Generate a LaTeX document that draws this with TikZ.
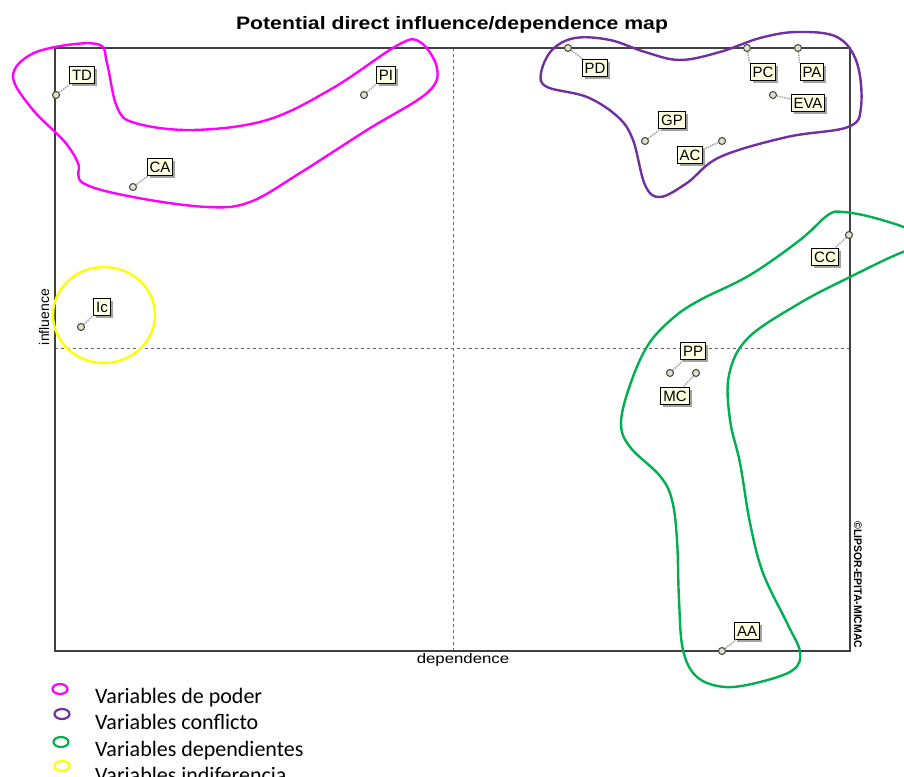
\documentclass[tikz,border=0pt]{standalone}
\usepackage{fontspec}
\setmainfont{Liberation Sans}
\newfontfamily\legendfont{Carlito}
\usetikzlibrary{shadows,shapes.geometric}

\definecolor{powercol}{RGB}{255,0,255}
\definecolor{conflictcol}{RGB}{112,48,160}
\definecolor{dependcol}{RGB}{0,176,80}
\definecolor{indiffcol}{RGB}{255,255,0}
\definecolor{labelfill}{RGB}{255,255,225}
\definecolor{pointfill}{RGB}{225,225,200}

\tikzset{
    frame/.style={draw=black!75, line width=1.3},
    midline/.style={draw=black!60, dashed, line width=0.6},
    varlabel/.style={draw=black, line width=1, fill=labelfill, inner xsep=2.5, inner ysep=1,
        minimum height=17, font=\fontsize{15}{15}\selectfont,
        drop shadow={shadow xshift=2.5pt, shadow yshift=-2.5pt, fill=black!45, opacity=0.8}},
    varpoint/.style={circle, draw=black!70, fill=pointfill, line width=1.1, minimum size=7, inner sep=0},
    leader/.style={draw=black!35, densely dotted, line width=1.5},
    group/.style={line width=2.4, smooth cycle, tension=0.6},
    legendmark/.style={ellipse, draw, line width=2.2, minimum width=15, minimum height=10, inner sep=0},
    legendtext/.style={anchor=base west, inner sep=0, font=\legendfont\fontsize{22}{22}\selectfont}
}

\begin{document}
\begin{tikzpicture}[x=1pt, y=-1pt]
\useasboundingbox (0,0) rectangle (904,776);

    % Title and axis names
    \node[font=\bfseries\fontsize{18}{18}\selectfont, xscale=1.18] (title) at (452,25) {Potential direct influence/dependence map};
    \node[font=\fontsize{14}{14}\selectfont, xscale=1.2] (xname) at (463,660) {dependence};
    \node[font=\fontsize{14}{14}\selectfont, rotate=90] (yname) at (44,317) {influence};
    \node[font=\bfseries\fontsize{11}{11}\selectfont, rotate=-90, xscale=0.95] (copy) at (858,585) {\textcopyright LIPSOR-EPITA-MICMAC};

    % Plane and the two dashed mid lines
    \coordinate (NW) at (55,48);
    \coordinate (SE) at (850,651);
    \draw[midline] (453,48) -- (453,651);
    \draw[midline] (55,348) -- (850,348);
    \draw[frame] (NW) rectangle (SE);

    % Variables: points
    \node[varpoint] (pTD) at (56,95) {};
    \node[varpoint] (pPI) at (364,95) {};
    \node[varpoint] (pCA) at (133,187) {};
    \node[varpoint] (pIc) at (81,327) {};
    \node[varpoint] (pPD) at (568,48) {};
    \node[varpoint] (pPC) at (747,48) {};
    \node[varpoint] (pPA) at (798,48) {};
    \node[varpoint] (pEVA) at (773,95) {};
    \node[varpoint] (pGP) at (645,141) {};
    \node[varpoint] (pAC) at (722,141) {};
    \node[varpoint] (pCC) at (849,235) {};
    \node[varpoint] (pPP) at (670,373) {};
    \node[varpoint] (pMC) at (696,373) {};
    \node[varpoint] (pAA) at (722,651) {};

    % Variables: labels
    \node[varlabel] (TD) at (82,75) {TD};
    \node[varlabel] (PI) at (386,75) {PI};
    \node[varlabel] (CA) at (160,167) {CA};
    \node[varlabel] (Ic) at (102,307) {Ic};
    \node[varlabel] (PD) at (595,68) {PD};
    \node[varlabel] (PC) at (763,72) {PC};
    \node[varlabel] (PA) at (812,72) {PA};
    \node[varlabel] (EVA) at (808,103) {EVA};
    \node[varlabel] (GP) at (672,120) {GP};
    \node[varlabel] (AC) at (690,155) {AC};
    \node[varlabel] (CC) at (825,257) {CC};
    \node[varlabel] (PP) at (693,351) {PP};
    \node[varlabel] (MC) at (675,396) {MC};
    \node[varlabel] (AA) at (747,631) {AA};

    % Leaders from points to labels
    \draw[leader] (pTD) -- (TD);
    \draw[leader] (pPI) -- (PI);
    \draw[leader] (pCA) -- (CA);
    \draw[leader] (pIc) -- (Ic);
    \draw[leader] (pPD) -- (PD);
    \draw[leader] (pPC) -- (PC.north west);
    \draw[leader] (pPA) -- (PA.north west);
    \draw[leader] (pEVA) -- (EVA);
    \draw[leader] (pGP) -- (GP);
    \draw[leader] (pAC) -- (AC);
    \draw[leader] (pCC) -- (CC);
    \draw[leader] (pPP) -- (PP);
    \draw[leader] (pMC) -- (MC);
    \draw[leader] (pAA) -- (AA);

    % Groups of variables
    \draw[group, powercol] plot coordinates {(13,77) (30,55) (67,45) (100,45) (107,63) (117,107) (135,123)
        (193,130) (267,120) (333,88) (398,45) (420,42) (437,68) (427,93) (367,130) (300,173) (250,202)
        (207,207) (133,197) (83,183) (78,163) (64,141) (33,110)};
    \draw[group, conflictcol] plot coordinates {(541,73) (552,50) (575,38) (610,40) (645,52) (680,60)
        (720,52) (760,38) (797,32) (837,37) (857,63) (861,107) (848,127) (787,137) (720,157) (687,183)
        (660,197) (645,185) (633,140) (618,117) (587,97) (547,87)};
    \draw[indiffcol, line width=2.4] (104,315) ellipse (51 and 48);
    \begin{scope}
        \clip (0,0) rectangle (904,776);
        \draw[group, dependcol] plot coordinates {(843,212) (875,218) (915,232) (928,248) (903,252) (850,277)
            (800,303) (748,338) (729,375) (730,420) (740,463) (750,523) (763,573) (787,623) (800,652)
            (793,670) (760,682) (725,687) (697,677) (683,650) (679,600) (677,540) (672,500) (660,476)
            (630,447) (621,423) (630,385) (648,345) (673,318) (700,300) (750,275) (800,240) (828,215)};

        % Legend
        \node[legendmark, powercol] (mPower) at (60,689) {};
        \node[legendmark, conflictcol] (mConflict) at (62,714) {};
        \node[legendmark, dependcol] (mDepend) at (61,742) {};
        \node[legendmark, indiffcol] (mIndiff) at (62,766) {};
        \node[legendtext] (tPower) at (95,703) {Variables de poder};
        \node[legendtext] (tConflict) at (95,729) {Variables conflicto};
        \node[legendtext] (tDepend) at (95,756) {Variables dependientes};
        \node[legendtext] (tIndiff) at (95,782) {Variables indiferencia};
    \end{scope}

\end{tikzpicture}
\end{document}
